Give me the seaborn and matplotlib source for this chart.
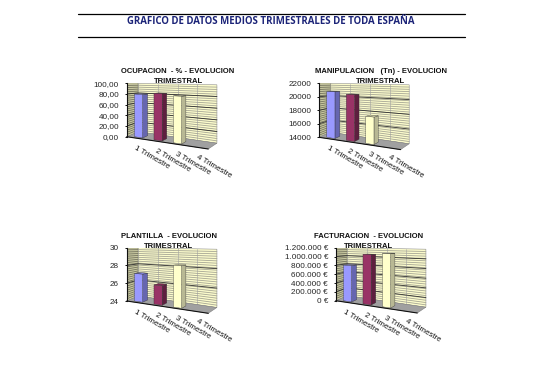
import numpy as np
import pandas as pd
import seaborn as sns
import matplotlib
matplotlib.use("Agg")
import matplotlib.pyplot as plt
from matplotlib.transforms import Transform

sns.set_style("white")
plt.rcParams['font.family'] = ['Liberation Sans', 'DejaVu Sans']

W_PX, H_PX = 543, 378

header = "GRAFICO DE DATOS MEDIOS TRIMESTRALES DE TODA ESPAÑA"
quarters = ["1 Trimestre", "2 Trimestre", "3 Trimestre", "4 Trimestre"]
reported = quarters[:3]
bar_colors = ["#9999ff", "#993366", "#ffffcc"]
side_colors = ["#6666b0", "#5e1f3f", "#b8b894"]
top_colors = ["#7f7fd8", "#7a2950", "#e6e6b4"]

ocupacion = [80, 83, 80]
ocupacion_ticks = [0, 20, 40, 60, 80, 100]
ocupacion_labels = ["0,00", "20,00", "40,00", "60,00", "80,00", "100,00"]

manipulacion = [20800, 20500, 17650]
manipulacion_ticks = [14000, 16000, 18000, 20000, 22000]
manipulacion_labels = ["14000", "16000", "18000", "20000", "22000"]

plantilla = [27.1, 26.05, 28.3]
plantilla_ticks = [24, 26, 28, 30]
plantilla_labels = ["24", "26", "28", "30"]

facturacion = [808000, 1068000, 1098000]
facturacion_ticks = [0, 200000, 400000, 600000, 800000, 1000000, 1200000]
facturacion_labels = ["0 €", "200.000 €", "400.000 €", "600.000 €", "800.000 €", "1.000.000 €", "1.200.000 €"]

panels = [
    dict(title="OCUPACION  - % - EVOLUCION", values=ocupacion, ticks=ocupacion_ticks,
         labels=ocupacion_labels, x0=126.7, ybot=136.7, ytop=83.3, cx=178, ty=71.7),
    dict(title="MANIPULACION   (Tn) - EVOLUCION", values=manipulacion, ticks=manipulacion_ticks,
         labels=manipulacion_labels, x0=319.0, ybot=137.3, ytop=83.3, cx=381, ty=71.7),
    dict(title="PLANTILLA  - EVOLUCION", values=plantilla, ticks=plantilla_ticks,
         labels=plantilla_labels, x0=126.7, ybot=301.0, ytop=247.7, cx=169, ty=236),
    dict(title="FACTURACION  - EVOLUCION", values=facturacion, ticks=facturacion_ticks,
         labels=facturacion_labels, x0=335.7, ybot=300.7, ytop=247.7, cx=369, ty=236),
]

# projection of the box, in pixels
CAT_PX, DROP, TOP_DROP = 20.4, 12.3, 1.5
DX_L, DX_R, RISE_L, RISE_R = 11.7, 8.6, 5.0, 5.8
D_FRONT, D_BACK, BAR_W, BAR_PULL = 0.18, 0.62, 0.42, 3.0


class Box(Transform):
    input_dims = output_dims = 2

    def __init__(self, dep, vmin, vmax, box_h, pull=0.0):
        super().__init__()
        self.dep, self.vmin, self.vmax, self.box_h, self.pull = dep, vmin, vmax, box_h, pull

    def transform_non_affine(self, xy):
        xy = np.asarray(xy, float)
        f = (xy[:, 0] + 0.5) / 4
        t = (xy[:, 1] - self.vmin) / (self.vmax - self.vmin)
        d = self.dep
        x_px = f * 4 * CAT_PX + d * (DX_L + (DX_R - DX_L) * f) - self.pull * f
        low = -DROP * f + d * (RISE_L + (RISE_R - RISE_L) * f)
        high = self.box_h - TOP_DROP * f
        y_px = low + t * (high - low)
        return np.column_stack([x_px / CAT_PX - 0.5,
                                self.vmin + y_px / self.box_h * (self.vmax - self.vmin)])


fig = plt.figure(figsize=(W_PX / 100, H_PX / 100), dpi=100, facecolor="white")

for p in panels:
    vmin, vmax = p["ticks"][0], p["ticks"][-1]
    height = p["ybot"] - p["ytop"]
    ax_w, below = 5.2 * CAT_PX, 22
    ax = fig.add_axes([p["x0"] / W_PX, 1 - (p["ybot"] + below) / H_PX,
                       ax_w / W_PX, (height + below) / H_PX])
    ax.patch.set_alpha(0)
    df = pd.DataFrame({"q": reported, "v": p["values"]})
    sns.barplot(data=df, x="q", y="v", hue="q", order=quarters, hue_order=reported,
                palette=bar_colors, width=BAR_W, dodge=False, legend=False, ax=ax,
                edgecolor="#303030", linewidth=0.25, saturation=1, errorbar=None)
    span = vmax - vmin
    ax.set_xlim(-0.5, 4.7)
    ax.set_ylim(vmin - below / height * span, vmax)

    front = Box(0.0, vmin, vmax, height)
    back = Box(1.0, vmin, vmax, height)
    P = lambda T, u, v: T.transform_non_affine(np.array([[u, v]], float))[0]

    # walls and floor
    ax.add_patch(plt.Polygon([P(front, -.5, vmin), P(front, -.5, vmax), P(back, -.5, vmax), P(back, -.5, vmin)],
                             fc="#c8c8a0", ec="#808070", lw=0.3, zorder=1))
    ax.add_patch(plt.Polygon([P(back, -.5, vmin), P(back, -.5, vmax), P(back, 3.5, vmax), P(back, 3.5, vmin)],
                             fc="#fbfbcc", ec="#909090", lw=0.4, zorder=1))
    ax.add_patch(plt.Polygon([P(front, -.5, vmin), P(back, -.5, vmin), P(back, 3.5, vmin), P(front, 3.5, vmin)],
                             fc="#a0a0a0", ec="#707070", lw=0.3, zorder=3))
    ticks = p["ticks"]
    for v in np.linspace(vmin, vmax, int(height / 2))[1:-1]:
        wall = np.array([P(front, -.5, v), P(back, -.5, v)])
        ax.plot(wall[:, 0], wall[:, 1], color="#74745f", lw=0.6, zorder=2)
        rear = np.array([P(back, -.5, v), P(back, 3.5, v)])
        ax.plot(rear[:, 0], rear[:, 1], color="#a6a694", lw=0.6, zorder=2)
    for v in ticks[1:-1]:
        pts = np.array([P(front, -.5, v), P(back, -.5, v), P(back, 3.5, v)])
        ax.plot(pts[:, 0], pts[:, 1], color="#303030", lw=0.6, zorder=2.5)
    for u in range(1, 4):
        pts = np.array([P(back, u - .5, vmin), P(back, u - .5, vmax)])
        ax.plot(pts[:, 0], pts[:, 1], color="#a0a0a0", lw=0.4, zorder=2.2)

    # bars: front faces from seaborn, side and top faces from the same rectangles
    fb = Box(D_FRONT, vmin, vmax, height, BAR_PULL)
    bb = Box(D_BACK, vmin, vmax, height, BAR_PULL)
    rects = [c[0] for c in ax.containers]
    for i, (r, val) in enumerate(zip(rects, p["values"])):
        r.set_y(vmin)
        r.set_height(val - vmin)
        r.set_transform(fb + ax.transData)
        r.set_zorder(6 + i)
        r.set_clip_on(False)
        x1, x2 = r.get_x(), r.get_x() + r.get_width()
        ax.add_patch(plt.Polygon([P(fb, x2, vmin), P(fb, x2, val), P(bb, x2, val), P(bb, x2, vmin)],
                                 fc=side_colors[i], ec="#303030", lw=0.25, zorder=5 + i, clip_on=False))
        ax.add_patch(plt.Polygon([P(fb, x1, val), P(fb, x2, val), P(bb, x2, val), P(bb, x1, val)],
                                 fc=top_colors[i], ec="#303030", lw=0.25, zorder=5 + i, clip_on=False))

    # front edge and category labels
    pts = np.array([P(front, u - .5, vmin) for u in range(5)])
    ax.plot(pts[:, 0], pts[:, 1], color="#101010", lw=0.8, zorder=4, clip_on=False)
    for i, q in enumerate(quarters):
        ax.annotate(q, xy=P(front, i, vmin), xytext=(0, -6), textcoords="offset pixels",
                    rotation=-30, rotation_mode="anchor", ha="left", va="top",
                    fontsize=5.7, color="#111111", annotation_clip=False)

    # real value axis
    sns.despine(ax=ax, top=True, right=True, bottom=True, left=False)
    ax.spines["left"].set_bounds(vmin, vmax)
    ax.spines["left"].set_linewidth(0.8)
    ax.spines["left"].set_color("#101010")
    ax.spines["left"].set_zorder(8)
    ax.set_yticks(ticks, p["labels"])
    ax.tick_params(axis="y", left=True, length=1.5, width=0.7, pad=4, labelsize=5.9, color="#101010")
    ax.set_xticks([])
    ax.set_xlabel("")
    ax.set_ylabel("")
    ax.grid(False)

    fig.text(p["cx"] / W_PX, 1 - p["ty"] / H_PX, p["title"], ha="center", va="center",
             fontsize=5.5, fontweight="bold", color="#111111")
    fig.text(p["cx"] / W_PX, 1 - (p["ty"] + 10) / H_PX, "TRIMESTRAL", ha="center", va="center",
             fontsize=5.5, fontweight="bold", color="#111111", zorder=20)

for y in (14, 37):
    fig.add_artist(plt.Line2D([78 / W_PX, 465 / W_PX], [1 - y / H_PX] * 2, color="black", lw=0.9))
fig.text(271 / W_PX, 1 - 21 / H_PX, header, ha="center", va="center", fontsize=6.9,
         fontweight="bold", color="#1c2478", family=["Open Sans", "DejaVu Sans"])

fig.savefig("out.png", dpi=100, facecolor="white")
